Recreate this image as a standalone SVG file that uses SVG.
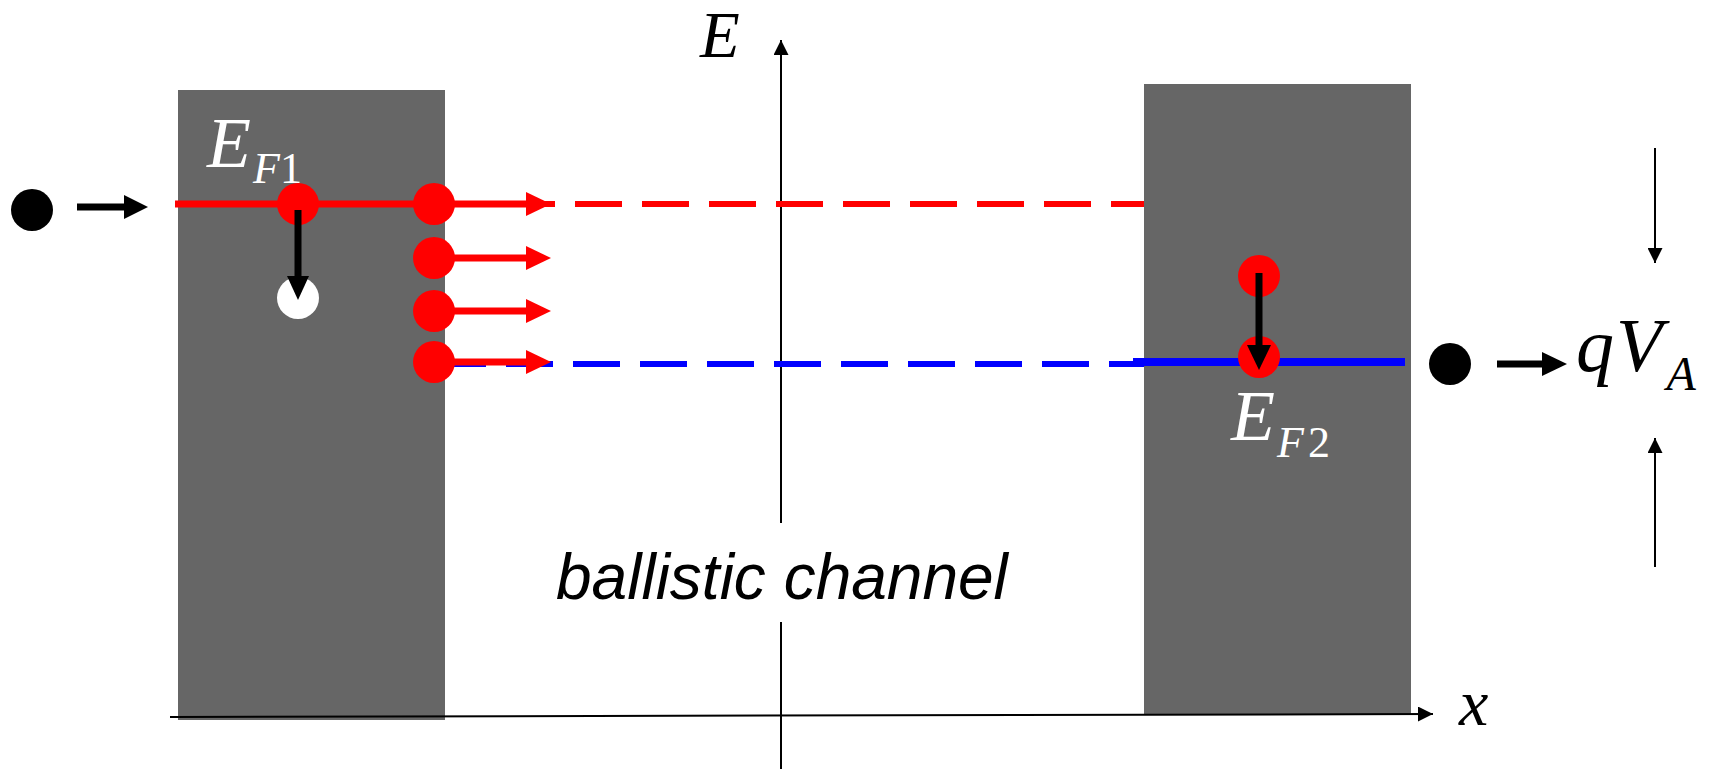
<svg xmlns="http://www.w3.org/2000/svg" width="1716" height="769" viewBox="0 0 1716 769">
<defs>
<style>
.box{fill:#666666}
.ax{stroke:#000;stroke-width:2;fill:none}
.red{fill:#ff0000}
.rl{stroke:#ff0000;stroke-width:7;fill:none}
.bl{stroke:#000;stroke-width:7;fill:none}
.math{font-family:"Liberation Serif",serif;font-style:italic}
.up{font-style:normal}
.lbl{font-family:"Liberation Sans",sans-serif;font-style:italic}
</style>
<marker id="ah" viewBox="0 0 10 10" refX="10" refY="5" markerWidth="15" markerHeight="15" markerUnits="userSpaceOnUse" orient="auto"><path d="M0,0 L10,5 L0,10 z" fill="#000"/></marker>
<path id="rhead" d="M-25,-12 L0,0 L-25,12 z" fill="#ff0000"/>
</defs>
<rect width="1716" height="769" fill="#fff"/>

<g id="left-contact">
<rect class="box" x="178" y="90" width="267" height="630"/>
</g>
<g id="right-contact">
<rect class="box" x="1144" y="84" width="267" height="630"/>
</g>

<g id="axes">
<line class="ax" x1="781" y1="769" x2="781" y2="622"/>
<line class="ax" x1="781" y1="523" x2="781" y2="40" marker-end="url(#ah)"/>
<line class="ax" x1="170" y1="717" x2="1433" y2="714" marker-end="url(#ah)"/>
<text class="math" x="700" y="57" font-size="65">E</text>
<text class="math" x="1459" y="725" font-size="66">x</text>
</g>

<g id="connectors">
<line x1="175" y1="204" x2="434" y2="204" class="rl"/>
<line x1="441" y1="204" x2="1144" y2="204" stroke="#ff0000" stroke-width="6" stroke-dasharray="47 20"/>
<line x1="439" y1="364" x2="1144" y2="364" stroke="#0000ff" stroke-width="6" stroke-dasharray="47 20"/>
<line x1="1133" y1="362" x2="1405" y2="362" stroke="#0000ff" stroke-width="8"/>
<line x1="434" y1="204" x2="528" y2="204" class="rl"/>
<use href="#rhead" x="551" y="204"/>
<line x1="434" y1="258" x2="528" y2="258" class="rl"/>
<use href="#rhead" x="551" y="258"/>
<line x1="434" y1="311" x2="528" y2="311" class="rl"/>
<use href="#rhead" x="551" y="311"/>
<line x1="434" y1="362" x2="528" y2="362" class="rl"/>
<use href="#rhead" x="551" y="362"/>
<line x1="77" y1="207" x2="126" y2="207" class="bl"/>
<path d="M124,195 L148,207 L124,219 z" fill="#000"/>
<line x1="1497" y1="364" x2="1544" y2="364" class="bl"/>
<path d="M1542,352 L1567,364 L1542,376 z" fill="#000"/>
<line x1="1655" y1="148" x2="1655" y2="263" class="ax" marker-end="url(#ah)"/>
<line x1="1655" y1="567" x2="1655" y2="438" class="ax" marker-end="url(#ah)"/>
</g>

<g id="electrons-left">
<circle class="red" cx="298" cy="204" r="21"/>
<circle fill="#fff" cx="298" cy="298" r="21"/>
<line x1="298" y1="210" x2="298" y2="278" class="bl"/>
<path d="M287,276 L298,300 L309,276 z" fill="#000"/>
<circle class="red" cx="434" cy="204" r="21"/>
<circle class="red" cx="434" cy="258" r="21"/>
<circle class="red" cx="434" cy="311" r="21"/>
<circle class="red" cx="434" cy="362" r="21"/>
<circle fill="#000" cx="32" cy="210" r="21"/>
</g>

<g id="electrons-right">
<circle class="red" cx="1259" cy="276" r="21"/>
<circle class="red" cx="1259" cy="357" r="21"/>
<line x1="1259" y1="273" x2="1259" y2="347" class="bl"/>
<path d="M1247,345 L1259,370 L1271,345 z" fill="#000"/>
<circle fill="#000" cx="1450" cy="364" r="21"/>
</g>

<g id="labels">
<text class="math" x="207" y="167" font-size="72" fill="#fff">E<tspan font-size="44" dy="16" dx="2">F</tspan><tspan class="up" font-size="44">1</tspan></text>
<text class="math" x="1231" y="440" font-size="72" fill="#fff">E<tspan font-size="44" dy="17" dx="2">F</tspan><tspan class="up" font-size="44" dx="4">2</tspan></text>
<text class="math" x="1576" y="371" font-size="76">q<tspan dx="2">V</tspan><tspan font-size="48" dy="19" dx="4">A</tspan></text>
<text class="lbl" x="556" y="599" font-size="64">ballistic channel</text>
</g>
</svg>
